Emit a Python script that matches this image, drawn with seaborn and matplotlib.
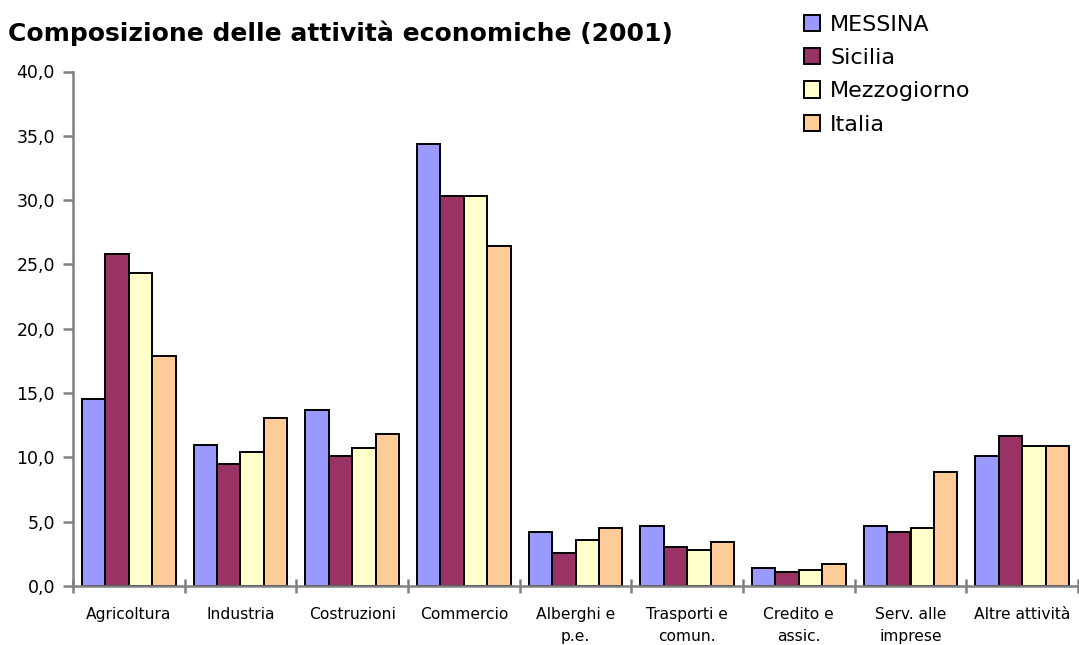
import numpy as np
import pandas as pd
import matplotlib
matplotlib.use("Agg")
import matplotlib.pyplot as plt
from matplotlib.ticker import FuncFormatter, FixedLocator, MultipleLocator
import seaborn as sns

categories = ["Agricoltura", "Industria", "Costruzioni", "Commercio",
              "Alberghi e\np.e.", "Trasporti e\ncomun.", "Credito e\nassic.",
              "Serv. alle\nimprese", "Altre attività"]
series = ["MESSINA", "Sicilia", "Mezzogiorno", "Italia"]
messina = [14.5, 11.0, 13.7, 34.4, 4.2, 4.7, 1.4, 4.7, 10.1]
sicilia = [25.8, 9.5, 10.1, 30.3, 2.6, 3.0, 1.1, 4.2, 11.7]
mezzogiorno = [24.3, 10.4, 10.7, 30.3, 3.6, 2.8, 1.25, 4.5, 10.9]
italia = [17.9, 13.1, 11.8, 26.4, 4.5, 3.4, 1.7, 8.9, 10.9]
colors = ["#9999FF", "#993366", "#FFFFCC", "#FFCC99"]

values = [messina, sicilia, mezzogiorno, italia]
rows = []
for s, vals in zip(series, values):
    for c, v in zip(categories, vals):
        rows.append({"cat": c, "serie": s, "val": v})
df = pd.DataFrame(rows)

sns.set_style("white")
plt.rcParams["font.family"] = ["DejaVu Sans"]
plt.rcParams["text.color"] = "black"
plt.rcParams["xtick.labelcolor"] = "black"
plt.rcParams["ytick.labelcolor"] = "black"

fig = plt.figure(figsize=(10.79, 6.45), dpi=100)
ax = fig.add_axes([73/1079, 59/645, 1005/1079, (586-71.5)/645])

sns.barplot(data=df, x="cat", y="val", hue="serie", order=categories,
            hue_order=series, palette=colors, saturation=1,
            edgecolor="black", linewidth=1.4, width=0.84, ax=ax,
            legend=True)

ax.set_ylim(0, 40)
ax.set_xlim(-0.5, len(categories) - 0.5)
ax.set_xlabel("")
ax.set_ylabel("")
ax.yaxis.set_major_locator(MultipleLocator(5))
ax.yaxis.set_major_formatter(FuncFormatter(lambda v, p: f"{v:.1f}".replace(".", ",")))

gray = "#808080"
for sp in ["top", "right"]:
    ax.spines[sp].set_visible(False)
for sp in ["left", "bottom"]:
    ax.spines[sp].set_color(gray)
    ax.spines[sp].set_linewidth(1.8)

ax.tick_params(axis="y", which="major", direction="out", length=7, width=1.8,
               color=gray, labelsize=12.5, pad=6, left=True, labelcolor="black")
ax.tick_params(axis="x", which="major", length=0, labelsize=11.2, pad=15,
               labelcolor="black")
ax.xaxis.set_minor_locator(FixedLocator(np.arange(-0.5, len(categories), 1.0)))
ax.tick_params(axis="x", which="minor", direction="inout", length=10, width=1.8,
               color=gray, bottom=True)
for lbl in ax.get_xticklabels():
    lbl.set_linespacing(1.6)

ax.get_legend().remove()
handles = [plt.Rectangle((0, 0), 1, 1, facecolor=c, edgecolor="black", linewidth=1.4)
           for c in colors]
fig.legend(handles, series, loc="upper left", bbox_to_anchor=(788/1079, 1 + 1/645),
           frameon=False, fontsize=16, handlelength=0.75, handleheight=0.75,
           handletextpad=0.45, labelspacing=0.6, borderpad=0.2)

fig.text(8/1079, 1 - 33/645, "Composizione delle attività economiche (2001)",
         fontsize=18, fontweight="bold", color="black", va="center", ha="left")

fig.savefig("out.png", dpi=100)
